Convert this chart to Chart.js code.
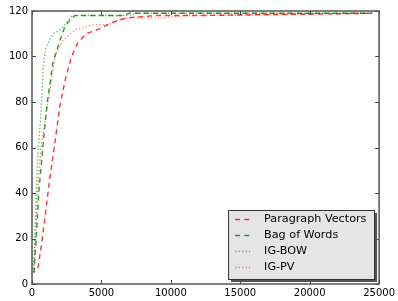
<!DOCTYPE html>
<html>
<head>
<meta charset="utf-8">
<script src="https://cdn.jsdelivr.net/npm/chart.js@4/dist/chart.umd.min.js"></script>
<style>
  html, body { margin: 0; padding: 0; background: #fff; }
  #wrap { width: 398px; height: 301px; }
</style>
</head>
<body>
<div id="wrap"><canvas id="curve-chart"></canvas></div>
<script>
const seriesNames = ['Paragraph Vectors', 'Bag of Words', 'IG-BOW', 'IG-PV'];

const pvX = [430, 650, 950, 1250, 1600, 2000, 2400, 2850, 3300, 3900, 4800, 5800, 6800, 9000, 12000, 24500];
const pvY = [7, 16, 30, 45, 60, 78, 90, 100, 106, 110, 112, 115, 117, 118, 118, 119];

const bowX = [150, 300, 500, 780, 1100, 1500, 2000, 2300, 2600, 3100, 6500, 7000, 24500];
const bowY = [5, 20, 41, 60, 80, 97, 107, 112, 115, 118, 118, 119, 119];

const igBowX = [100, 200, 300, 450, 650, 800, 1000, 1500, 2100, 2500, 2900, 7000, 7500, 24500];
const igBowY = [5, 20, 40, 60, 75, 95, 104, 110, 112, 115, 118, 118, 119, 119];

const igPvX = [100, 250, 400, 650, 1000, 1300, 1650, 2200, 3200, 4500, 5500, 6200, 7000, 9500, 11000, 24500];
const igPvY = [5, 20, 40, 60, 75, 85, 100, 107, 112, 114, 114, 116, 117, 117, 118, 119];

const xTicks = [0, 5000, 10000, 15000, 20000, 25000];
const yTicks = [0, 20, 40, 60, 80, 100, 120];

function points(xs, ys) {
  return xs.map((x, i) => ({ x: x, y: ys[i] }));
}

const styles = [
  { color: 'rgba(255,0,0,0.8)', dash: [5, 4] },
  { color: 'rgba(0,128,0,0.8)', dash: [5, 4] },
  { color: 'rgba(0,160,0,0.6)', dash: [1.5, 2] },
  { color: 'rgba(255,0,0,0.45)', dash: [1.5, 2] }
];
const allData = [points(pvX, pvY), points(bowX, bowY), points(igBowX, igBowY), points(igPvX, igPvY)];

const frameAndTicks = {
  id: 'frameAndTicks',
  afterDraw(chart) {
    const ctx = chart.ctx;
    const a = chart.chartArea;
    const xs = chart.scales.x, ys = chart.scales.y;
    ctx.save();
    ctx.strokeStyle = '#444';
    ctx.lineWidth = 1;
    ctx.beginPath();
    xTicks.forEach(v => {
      const px = Math.round(xs.getPixelForValue(v)) + 0.5;
      ctx.moveTo(px, a.bottom); ctx.lineTo(px, a.bottom - 4);
      ctx.moveTo(px, a.top); ctx.lineTo(px, a.top + 4);
    });
    yTicks.forEach(v => {
      const py = Math.round(ys.getPixelForValue(v)) + 0.5;
      ctx.moveTo(a.left, py); ctx.lineTo(a.left + 4, py);
      ctx.moveTo(a.right, py); ctx.lineTo(a.right - 4, py);
    });
    ctx.stroke();
    ctx.strokeStyle = '#555';
    ctx.lineWidth = 1.5;
    ctx.strokeRect(a.left, a.top, a.right - a.left, a.bottom - a.top);

    // legend
    const w = 146, h = 69;
    const bx = a.right - 5 - w, by = a.bottom - 5 - h;
    ctx.fillStyle = '#555';
    ctx.fillRect(bx + 3, by + 3, w, h);
    ctx.fillStyle = '#e5e5e5';
    ctx.fillRect(bx, by, w, h);
    ctx.strokeStyle = '#333';
    ctx.lineWidth = 1;
    ctx.strokeRect(bx + 0.5, by + 0.5, w, h);
    ctx.font = '11.2px "DejaVu Sans"';
    ctx.textBaseline = 'middle';
    chart.data.datasets.forEach((ds, i) => {
      const ry = by + 9 + i * 16;
      ctx.strokeStyle = ds.borderColor;
      ctx.setLineDash(ds.borderDash);
      ctx.lineWidth = 1.5;
      ctx.beginPath();
      ctx.moveTo(bx + 7, ry + 0.5); ctx.lineTo(bx + 22, ry + 0.5);
      ctx.stroke();
      ctx.setLineDash([]);
      ctx.fillStyle = '#000';
      ctx.fillText(ds.label, bx + 36, ry);
    });
    ctx.restore();
  }
};

new Chart(document.getElementById('curve-chart').getContext('2d'), {
  type: 'line',
  data: {
    datasets: seriesNames.map((name, i) => ({
      label: name,
      data: allData[i],
      borderColor: styles[i].color,
      borderDash: styles[i].dash,
      borderWidth: 1.4,
      pointRadius: 0,
      fill: false,
      tension: 0
    }))
  },
  options: {
    responsive: true,
    maintainAspectRatio: false,
    animation: false,
    layout: { padding: { top: 11, right: 15, left: 0, bottom: 0 } },
    plugins: { legend: { display: false }, tooltip: { enabled: false } },
    scales: {
      x: {
        type: 'linear',
        min: 0,
        max: 25000,
        grid: { display: false, drawTicks: false, tickLength: 0 },
        border: { display: false },
        afterFit: s => { s.height = 17; },
        afterBuildTicks: s => { s.ticks = xTicks.map(v => ({ value: v })); },
        ticks: { padding: 3, maxRotation: 0, color: '#000', font: { family: 'DejaVu Sans', size: 10 }, callback: v => String(v) }
      },
      y: {
        min: 0,
        max: 120,
        grid: { display: false, drawTicks: false, tickLength: 0 },
        border: { display: false },
        afterFit: s => { s.width = 32; },
        afterBuildTicks: s => { s.ticks = yTicks.map(v => ({ value: v })); },
        ticks: { padding: 4, color: '#000', font: { family: 'DejaVu Sans', size: 10 }, callback: v => String(v) }
      }
    }
  },
  plugins: [frameAndTicks]
});
</script>
</body>
</html>
